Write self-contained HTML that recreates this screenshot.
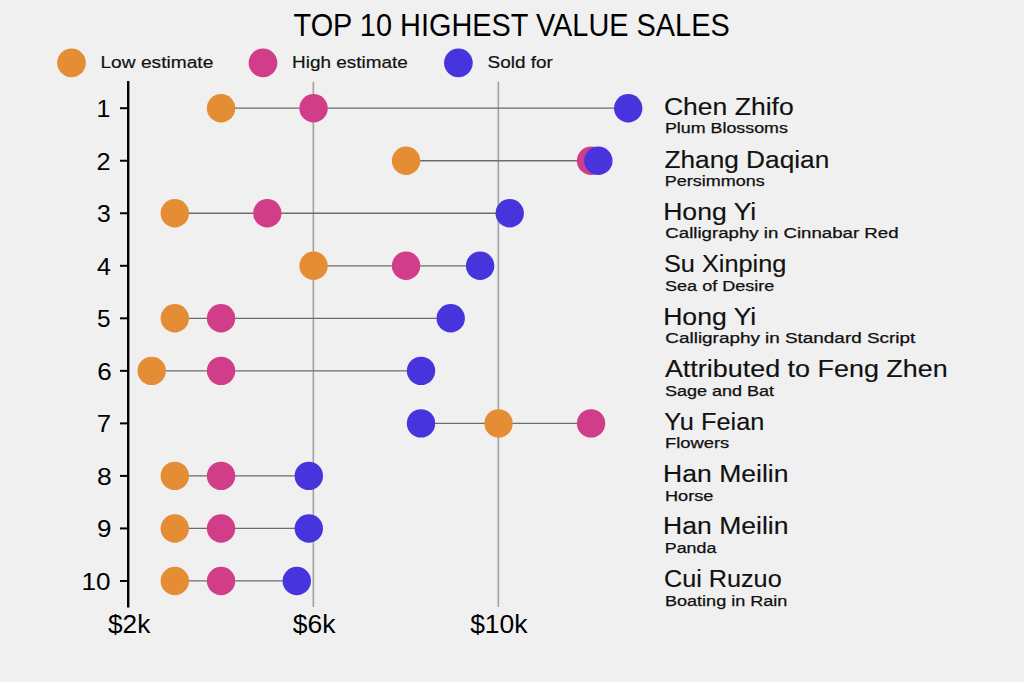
<!DOCTYPE html><html><head><meta charset="utf-8"><style>html,body{margin:0;padding:0;background:#f0f0f0;width:1024px;height:682px;overflow:hidden}svg{display:block}text{font-family:"Liberation Sans",sans-serif}</style></head><body>
<svg width="1024" height="682" viewBox="0 0 1024 682">
<rect width="1024" height="682" fill="#f0f0f0"/>
<text x="293.50" y="35.80" font-size="31.5" fill="#000" textLength="436.23" lengthAdjust="spacingAndGlyphs">TOP 10 HIGHEST VALUE SALES</text>
<circle cx="71.5" cy="62.8" r="14.35" fill="#E58D35"/>
<text x="100.46" y="67.50" font-size="16.9" fill="#111" stroke="#111" stroke-width="0.2" textLength="112.84" lengthAdjust="spacingAndGlyphs">Low estimate</text>
<circle cx="263" cy="62.8" r="14.35" fill="#D23D89"/>
<text x="292.05" y="67.50" font-size="16.9" fill="#111" stroke="#111" stroke-width="0.2" textLength="115.72" lengthAdjust="spacingAndGlyphs">High estimate</text>
<circle cx="458.4" cy="62.8" r="14.35" fill="#4834DC"/>
<text x="487.59" y="67.50" font-size="16.9" fill="#111" stroke="#111" stroke-width="0.2" textLength="65.24" lengthAdjust="spacingAndGlyphs">Sold for</text>
<line x1="313.35" y1="81.7" x2="313.35" y2="607" stroke="#a2a2a2" stroke-width="1.6"/>
<line x1="498.35" y1="81.7" x2="498.35" y2="607" stroke="#a2a2a2" stroke-width="1.6"/>
<line x1="128.2" y1="81.1" x2="128.2" y2="607.5" stroke="#000" stroke-width="2.4"/>
<line x1="120" y1="108.20" x2="128.2" y2="108.20" stroke="#000" stroke-width="2"/>
<text x="96.64" y="117.10" font-size="24.5" fill="#000" textLength="13.89" lengthAdjust="spacingAndGlyphs">1</text>
<line x1="120" y1="160.73" x2="128.2" y2="160.73" stroke="#000" stroke-width="2"/>
<text x="96.50" y="169.63" font-size="24.5" fill="#000" textLength="14.08" lengthAdjust="spacingAndGlyphs">2</text>
<line x1="120" y1="213.26" x2="128.2" y2="213.26" stroke="#000" stroke-width="2"/>
<text x="96.91" y="222.16" font-size="24.5" fill="#000" textLength="13.75" lengthAdjust="spacingAndGlyphs">3</text>
<line x1="120" y1="265.79" x2="128.2" y2="265.79" stroke="#000" stroke-width="2"/>
<text x="96.97" y="274.69" font-size="24.5" fill="#000" textLength="13.86" lengthAdjust="spacingAndGlyphs">4</text>
<line x1="120" y1="318.32" x2="128.2" y2="318.32" stroke="#000" stroke-width="2"/>
<text x="96.96" y="327.22" font-size="24.5" fill="#000" textLength="13.62" lengthAdjust="spacingAndGlyphs">5</text>
<line x1="120" y1="370.85" x2="128.2" y2="370.85" stroke="#000" stroke-width="2"/>
<text x="97.17" y="379.75" font-size="24.5" fill="#000" textLength="14.50" lengthAdjust="spacingAndGlyphs">6</text>
<line x1="120" y1="423.38" x2="128.2" y2="423.38" stroke="#000" stroke-width="2"/>
<text x="96.65" y="432.28" font-size="24.5" fill="#000" textLength="14.34" lengthAdjust="spacingAndGlyphs">7</text>
<line x1="120" y1="475.91" x2="128.2" y2="475.91" stroke="#000" stroke-width="2"/>
<text x="96.98" y="484.81" font-size="24.5" fill="#000" textLength="14.74" lengthAdjust="spacingAndGlyphs">8</text>
<line x1="120" y1="528.44" x2="128.2" y2="528.44" stroke="#000" stroke-width="2"/>
<text x="96.90" y="537.34" font-size="24.5" fill="#000" textLength="14.44" lengthAdjust="spacingAndGlyphs">9</text>
<line x1="120" y1="580.97" x2="128.2" y2="580.97" stroke="#000" stroke-width="2"/>
<text x="81.59" y="590.17" font-size="24.5" fill="#000" textLength="29.02" lengthAdjust="spacingAndGlyphs">10</text>
<text x="107.98" y="633.40" font-size="25.5" fill="#000" textLength="42.29" lengthAdjust="spacingAndGlyphs">$2k</text>
<text x="292.69" y="633.40" font-size="25.5" fill="#000" textLength="42.78" lengthAdjust="spacingAndGlyphs">$6k</text>
<text x="470.17" y="633.40" font-size="25.5" fill="#000" textLength="57.36" lengthAdjust="spacingAndGlyphs">$10k</text>
<line x1="221.05" y1="108.20" x2="628.22" y2="108.20" stroke="#6c6c6c" stroke-width="1.3"/>
<circle cx="221.05" cy="108.20" r="14.2" fill="#E58D35"/>
<circle cx="313.55" cy="108.20" r="14.2" fill="#D23D89"/>
<circle cx="628.22" cy="108.20" r="14.2" fill="#4834DC"/>
<text x="663.95" y="115.10" font-size="24.2" fill="#111" stroke="#111" stroke-width="0.15" textLength="129.81" lengthAdjust="spacingAndGlyphs">Chen Zhifo</text>
<text x="664.95" y="133.20" font-size="14.0" fill="#111" stroke="#111" stroke-width="0.25" textLength="122.96" lengthAdjust="spacingAndGlyphs">Plum Blossoms</text>
<line x1="406.05" y1="160.73" x2="598.34" y2="160.73" stroke="#6c6c6c" stroke-width="1.3"/>
<circle cx="406.05" cy="160.73" r="14.2" fill="#E58D35"/>
<circle cx="591.05" cy="160.73" r="14.2" fill="#D23D89"/>
<circle cx="598.34" cy="160.73" r="14.2" fill="#4834DC"/>
<text x="664.42" y="167.50" font-size="24.2" fill="#111" stroke="#111" stroke-width="0.15" textLength="164.90" lengthAdjust="spacingAndGlyphs">Zhang Daqian</text>
<text x="664.81" y="185.69" font-size="14.0" fill="#111" stroke="#111" stroke-width="0.25" textLength="99.82" lengthAdjust="spacingAndGlyphs">Persimmons</text>
<line x1="174.80" y1="213.26" x2="509.72" y2="213.26" stroke="#6c6c6c" stroke-width="1.3"/>
<circle cx="174.80" cy="213.26" r="14.2" fill="#E58D35"/>
<circle cx="267.30" cy="213.26" r="14.2" fill="#D23D89"/>
<circle cx="509.72" cy="213.26" r="14.2" fill="#4834DC"/>
<text x="663.17" y="219.90" font-size="24.2" fill="#111" stroke="#111" stroke-width="0.15" textLength="93.13" lengthAdjust="spacingAndGlyphs">Hong Yi</text>
<text x="665.35" y="238.18" font-size="14.0" fill="#111" stroke="#111" stroke-width="0.25" textLength="233.22" lengthAdjust="spacingAndGlyphs">Calligraphy in Cinnabar Red</text>
<line x1="313.55" y1="265.79" x2="480.12" y2="265.79" stroke="#6c6c6c" stroke-width="1.3"/>
<circle cx="313.55" cy="265.79" r="14.2" fill="#E58D35"/>
<circle cx="406.05" cy="265.79" r="14.2" fill="#D23D89"/>
<circle cx="480.12" cy="265.79" r="14.2" fill="#4834DC"/>
<text x="663.93" y="272.30" font-size="24.2" fill="#111" stroke="#111" stroke-width="0.15" textLength="122.46" lengthAdjust="spacingAndGlyphs">Su Xinping</text>
<text x="665.00" y="290.67" font-size="14.0" fill="#111" stroke="#111" stroke-width="0.25" textLength="109.35" lengthAdjust="spacingAndGlyphs">Sea of Desire</text>
<line x1="174.80" y1="318.32" x2="450.71" y2="318.32" stroke="#6c6c6c" stroke-width="1.3"/>
<circle cx="174.80" cy="318.32" r="14.2" fill="#E58D35"/>
<circle cx="221.05" cy="318.32" r="14.2" fill="#D23D89"/>
<circle cx="450.71" cy="318.32" r="14.2" fill="#4834DC"/>
<text x="663.17" y="324.70" font-size="24.2" fill="#111" stroke="#111" stroke-width="0.15" textLength="93.13" lengthAdjust="spacingAndGlyphs">Hong Yi</text>
<text x="665.39" y="343.16" font-size="14.0" fill="#111" stroke="#111" stroke-width="0.25" textLength="249.83" lengthAdjust="spacingAndGlyphs">Calligraphy in Standard Script</text>
<line x1="151.67" y1="370.85" x2="421.02" y2="370.85" stroke="#6c6c6c" stroke-width="1.3"/>
<circle cx="151.67" cy="370.85" r="14.2" fill="#E58D35"/>
<circle cx="221.05" cy="370.85" r="14.2" fill="#D23D89"/>
<circle cx="421.02" cy="370.85" r="14.2" fill="#4834DC"/>
<text x="664.92" y="377.10" font-size="24.2" fill="#111" stroke="#111" stroke-width="0.15" textLength="282.78" lengthAdjust="spacingAndGlyphs">Attributed to Feng Zhen</text>
<text x="664.92" y="395.65" font-size="14.0" fill="#111" stroke="#111" stroke-width="0.25" textLength="109.21" lengthAdjust="spacingAndGlyphs">Sage and Bat</text>
<line x1="421.02" y1="423.38" x2="591.05" y2="423.38" stroke="#6c6c6c" stroke-width="1.3"/>
<circle cx="498.55" cy="423.38" r="14.2" fill="#E58D35"/>
<circle cx="591.05" cy="423.38" r="14.2" fill="#D23D89"/>
<circle cx="421.02" cy="423.38" r="14.2" fill="#4834DC"/>
<text x="664.33" y="429.50" font-size="24.2" fill="#111" stroke="#111" stroke-width="0.15" textLength="100.00" lengthAdjust="spacingAndGlyphs">Yu Feian</text>
<text x="664.91" y="448.14" font-size="14.0" fill="#111" stroke="#111" stroke-width="0.25" textLength="64.38" lengthAdjust="spacingAndGlyphs">Flowers</text>
<line x1="174.80" y1="475.91" x2="308.81" y2="475.91" stroke="#6c6c6c" stroke-width="1.3"/>
<circle cx="174.80" cy="475.91" r="14.2" fill="#E58D35"/>
<circle cx="221.05" cy="475.91" r="14.2" fill="#D23D89"/>
<circle cx="308.81" cy="475.91" r="14.2" fill="#4834DC"/>
<text x="663.12" y="481.90" font-size="24.2" fill="#111" stroke="#111" stroke-width="0.15" textLength="125.31" lengthAdjust="spacingAndGlyphs">Han Meilin</text>
<text x="664.93" y="500.63" font-size="14.0" fill="#111" stroke="#111" stroke-width="0.25" textLength="48.49" lengthAdjust="spacingAndGlyphs">Horse</text>
<line x1="174.80" y1="528.44" x2="308.81" y2="528.44" stroke="#6c6c6c" stroke-width="1.3"/>
<circle cx="174.80" cy="528.44" r="14.2" fill="#E58D35"/>
<circle cx="221.05" cy="528.44" r="14.2" fill="#D23D89"/>
<circle cx="308.81" cy="528.44" r="14.2" fill="#4834DC"/>
<text x="663.12" y="534.30" font-size="24.2" fill="#111" stroke="#111" stroke-width="0.15" textLength="125.31" lengthAdjust="spacingAndGlyphs">Han Meilin</text>
<text x="664.88" y="553.12" font-size="14.0" fill="#111" stroke="#111" stroke-width="0.25" textLength="51.39" lengthAdjust="spacingAndGlyphs">Panda</text>
<line x1="174.80" y1="580.97" x2="296.79" y2="580.97" stroke="#6c6c6c" stroke-width="1.3"/>
<circle cx="174.80" cy="580.97" r="14.2" fill="#E58D35"/>
<circle cx="221.05" cy="580.97" r="14.2" fill="#D23D89"/>
<circle cx="296.79" cy="580.97" r="14.2" fill="#4834DC"/>
<text x="663.94" y="586.70" font-size="24.2" fill="#111" stroke="#111" stroke-width="0.15" textLength="117.73" lengthAdjust="spacingAndGlyphs">Cui Ruzuo</text>
<text x="664.95" y="605.61" font-size="14.0" fill="#111" stroke="#111" stroke-width="0.25" textLength="122.46" lengthAdjust="spacingAndGlyphs">Boating in Rain</text>
</svg></body></html>
